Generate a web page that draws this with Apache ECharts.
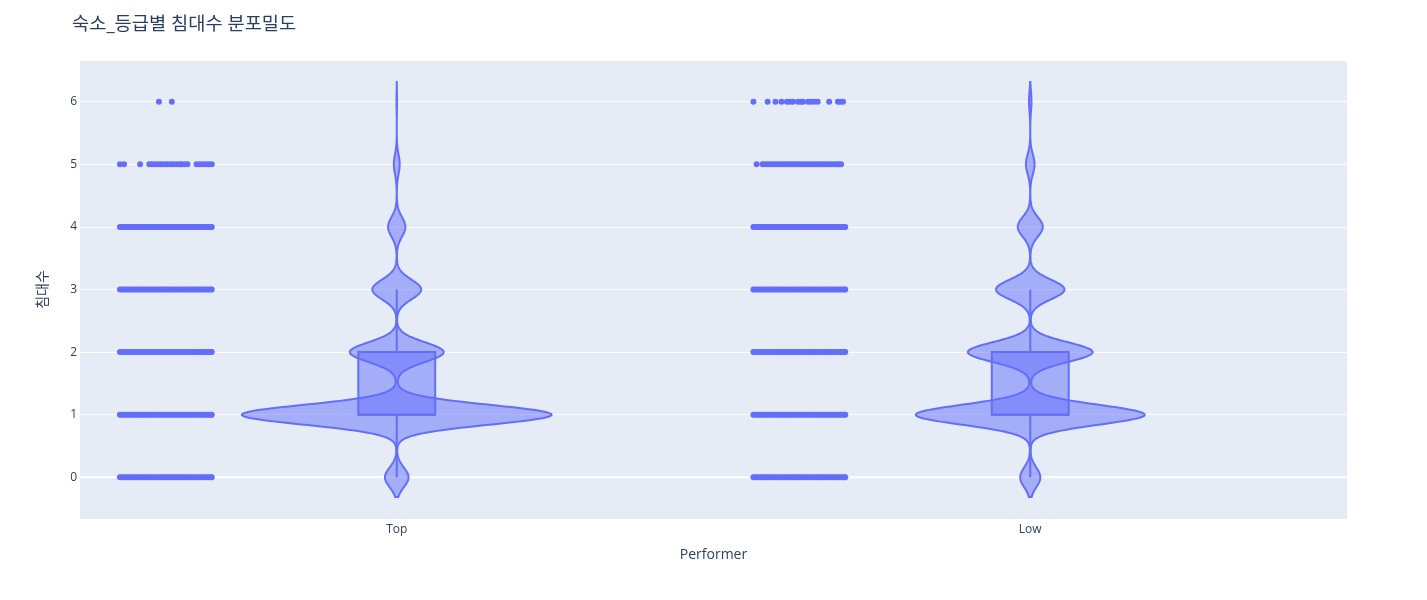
<!DOCTYPE html>
<html><head><meta charset="utf-8">
<script src="https://cdn.jsdelivr.net/npm/echarts@6/dist/echarts.min.js"></script>
<style>html,body{margin:0;padding:0;background:#fff}#c{width:1427px;height:600px}</style>
</head><body><div id="c"></div>
<script>
// ---- data ----
const categories = ['Top', 'Low'];
const bedValues = [0, 1, 2, 3, 4, 5, 6];
const yTicks = [0, 1, 2, 3, 4, 5, 6];
// relative KDE peak height at each bed count (Top peak at 1 bed = 1)
const topDensity = [0.076, 1.0, 0.303, 0.158, 0.056, 0.019, 0.0016];
const lowDensity = [0.065, 0.739, 0.403, 0.221, 0.081, 0.028, 0.008];
const kdeBandwidth = 0.157;
const dataMin = [0, 0];
const dataMax = [6, 6];
const boxQ1 = [1, 1];
const boxMedian = [1, 1];
const boxQ3 = [2, 2];
const whiskerLow = [0, 0];
const whiskerHigh = [3, 3];
// jitter offsets (-1..1) of the sample points, per row
const denseJitter = [-1.0,-0.96,-0.91,-0.87,-0.82,-0.78,-0.73,-0.69,-0.64,-0.6,-0.55,-0.51,-0.46,-0.42,-0.37,-0.33,-0.28,-0.24,-0.19,-0.15,-0.1,-0.06,-0.01,0.03,0.08,0.12,0.17,0.21,0.26,0.3,0.35,0.39,0.44,0.48,0.53,0.57,0.62,0.66,0.71,0.75,0.8,0.84,0.89,0.93,0.98,1.0];
const topJitter5 = [-1.0,-0.91,-0.56,-0.36,-0.30,-0.23,-0.16,-0.10,-0.03,0.03,0.10,0.16,0.23,0.30,0.34,0.41,0.47,0.67,0.74,0.80,0.87,0.93,1.0];
const topJitter6 = [-0.15, 0.13];
const lowJitter5 = [-0.93,-0.8,-0.75,-0.69,-0.63,-0.57,-0.51,-0.45,-0.39,-0.33,-0.27,-0.21,-0.15,-0.09,-0.03,0.03,0.09,0.15,0.21,0.27,0.33,0.39,0.45,0.51,0.57,0.63,0.69,0.75,0.81,0.86,0.91];
const lowJitter6 = [-1.0,-0.69,-0.52,-0.39,-0.27,-0.21,-0.14,-0.03,0.03,0.08,0.19,0.25,0.32,0.40,0.65,0.84,0.89,0.95];

const topRows = [denseJitter, denseJitter, denseJitter, denseJitter, denseJitter, topJitter5, topJitter6];
const lowRows = [denseJitter, denseJitter, denseJitter, denseJitter, denseJitter, lowJitter5, lowJitter6];

const pointData = [];
[topRows, lowRows].forEach((rows, ci) => {
  rows.forEach((jit, b) => jit.forEach(j => pointData.push([ci, bedValues[b], j])));
});

const COLOR = '#636efa';
const FILL = 'rgba(99,110,250,0.5)';
const FONT = '"Open Sans", "Noto Sans CJK KR", sans-serif';

function zeroLineItem(params, api) {
  const cs = params.coordSys;
  const y = api.coord([0, 0])[1];
  return { type: 'line', shape: { x1: cs.x, y1: y, x2: cs.x + cs.width, y2: y }, style: { stroke: '#ffffff', lineWidth: 2 } };
}

function violinItem(params, api) {
  const ci = params.dataIndex;
  const dens = ci === 0 ? topDensity : lowDensity;
  const band = api.size([1, 0])[0];
  const scale = band * 0.2445;
  const lo = dataMin[ci] - 2 * kdeBandwidth, hi = dataMax[ci] + 2 * kdeBandwidth;
  const right = [], left = [];
  const n = 600;
  for (let s = 0; s <= n; s++) {
    const y = lo + (hi - lo) * s / n;
    let d = 0;
    bedValues.forEach((b, k) => { d += dens[k] * Math.exp(-((y - b) * (y - b)) / (2 * kdeBandwidth * kdeBandwidth)); });
    const c = api.coord([ci, y]);
    right.push([c[0] + d * scale, c[1]]);
    left.unshift([c[0] - d * scale, c[1]]);
  }
  const cx = api.coord([ci, 0])[0];
  const bh = band * 0.0607;
  const yQ1 = api.coord([ci, boxQ1[ci]])[1];
  const yQ3 = api.coord([ci, boxQ3[ci]])[1];
  const yMed = api.coord([ci, boxMedian[ci]])[1];
  const yWL = api.coord([ci, whiskerLow[ci]])[1];
  const yWH = api.coord([ci, whiskerHigh[ci]])[1];
  return {
    type: 'group',
    children: [
      { type: 'polygon', shape: { points: right.concat(left) }, style: { fill: FILL, stroke: COLOR, lineWidth: 2 } },
      { type: 'line', shape: { x1: cx, y1: yQ1, x2: cx, y2: yWL }, style: { stroke: COLOR, lineWidth: 2 } },
      { type: 'line', shape: { x1: cx, y1: yQ3, x2: cx, y2: yWH }, style: { stroke: COLOR, lineWidth: 2 } },
      { type: 'rect', shape: { x: cx - bh, y: yQ3, width: 2 * bh, height: yQ1 - yQ3 }, style: { fill: FILL, stroke: COLOR, lineWidth: 2 } },
      { type: 'line', shape: { x1: cx - bh, y1: yMed, x2: cx + bh, y2: yMed }, style: { stroke: COLOR, lineWidth: 2 } }
    ]
  };
}

function pointItem(params, api) {
  const ci = api.value(0);
  const band = api.size([1, 0])[0];
  const c = api.coord([ci, api.value(1)]);
  const x = c[0] + band * (-0.3645 + api.value(2) * 0.0725);
  return { type: 'circle', shape: { cx: x, cy: c[1], r: 3 }, style: { fill: COLOR } };
}

const chart = echarts.init(document.getElementById('c'));
chart.setOption({
  animation: false,
  backgroundColor: '#fff',
  title: {
    text: '숙소_등급별 침대수 분포밀도', left: 72, top: 15, padding: 0,
    textStyle: { fontSize: 18.7, color: '#2a3f5f', fontWeight: 'normal', fontFamily: FONT }
  },
  grid: { left: 80, right: 80, top: 60, bottom: 81, show: true, backgroundColor: '#E5ECF6', borderWidth: 0 },
  xAxis: {
    type: 'category', data: categories,
    axisLine: { show: false }, axisTick: { show: false }, splitLine: { show: false },
    axisLabel: { color: '#2a3f5f', fontSize: 12, margin: 5, fontFamily: FONT },
    name: 'Performer', nameLocation: 'middle', nameGap: 29,
    nameTextStyle: { color: '#2a3f5f', fontSize: 14, fontFamily: FONT }
  },
  yAxis: {
    type: 'value', min: -0.665, max: 6.665, splitNumber: 7,
    axisLine: { show: false }, axisTick: { show: false },
    axisLabel: { color: '#2a3f5f', fontSize: 12, margin: 3, fontFamily: FONT, showMinLabel: false, showMaxLabel: false,
      formatter: v => (yTicks.indexOf(v) >= 0 ? String(v) : '') },
    splitLine: { lineStyle: { color: '#ffffff', width: 1 } },
    name: '침대수', nameLocation: 'middle', nameGap: 30, nameRotate: 90,
    nameTextStyle: { color: '#2a3f5f', fontSize: 14, fontFamily: FONT }
  },
  series: [
    { type: 'custom', data: [[0]], renderItem: zeroLineItem, z: 1, silent: true },
    { type: 'custom', data: [[0], [1]], renderItem: violinItem, z: 3, silent: true },
    { type: 'custom', data: pointData, renderItem: pointItem, z: 4, silent: true }
  ]
});
</script>
</body></html>
